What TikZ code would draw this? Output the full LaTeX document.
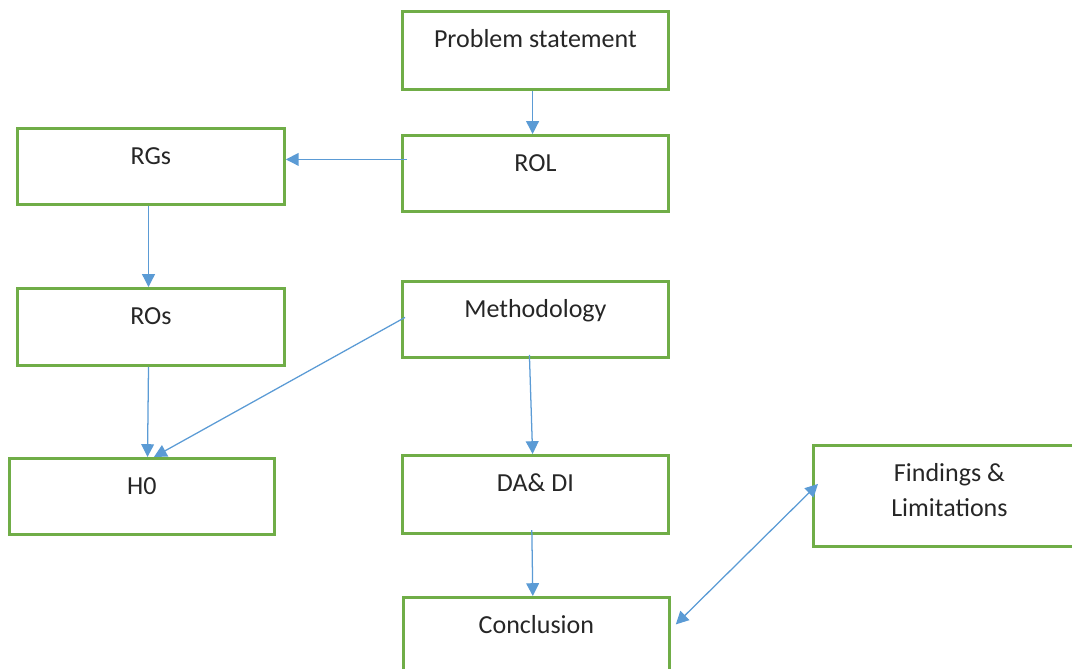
\documentclass[tikz,border=0pt]{standalone}
\usepackage{fontspec}
\setmainfont{Carlito}
\usetikzlibrary{arrows.meta}

\definecolor{boxgreen}{HTML}{70AD47}
\definecolor{linkblue}{HTML}{5B9BD5}
\definecolor{inkgray}{HTML}{262626}

\begin{document}
\begin{tikzpicture}
    \newcommand{\leftcol}{0.4}   % left column of boxes
    \newcommand{\midcol}{10.025} % middle column of boxes
    \newcommand{\boxwd}{6.65cm}  % width of the boxes

    % set the style of the boxes and the links
    \tikzset{
        stage/.style={
            draw=boxgreen,
            line width=2pt,
            inner sep=0pt,
            anchor=north west,
            align=center,
            text=inkgray,
            minimum width=\boxwd,
            text height=0.9cm,
            text depth=1cm,
            font=\fontsize{18.5}{25}\selectfont
            },
        link/.style={
            draw=linkblue,
            line width=0.9pt,
            -{Triangle[length=0.32cm,width=0.32cm]}
            }
    }

    \clip (0,0) rectangle (26.8,-16.7);

    % boxes of the middle column
    \node[stage, text depth=1.05cm] (prob) at (\midcol,-0.25) {Problem statement};
    \node[stage] (rol) at (\midcol,-3.35) {ROL};
    \node[stage] (meth) at (\midcol,-7.0) {Methodology};
    \node[stage, text depth=1.05cm] (dadi) at (\midcol,-11.35) {DA\& DI};
    \node[stage] (concl) at (\midcol+0.025,-14.9) {Conclusion};

    % boxes of the left column
    \node[stage, minimum width=6.675cm] (rgs) at (\leftcol,-3.175) {RGs};
    \node[stage, minimum width=6.675cm, text depth=1.025cm] (ros) at (\leftcol,-7.175) {ROs};
    \node[stage, minimum width=6.625cm] (hzero) at (0.2,-11.425) {H0};

    % box on the right (two lines of text)
    \node[stage, minimum width=6.8cm, text height=1.775cm, text depth=0.75cm] (find) at (20.3,-11.1) {Findings \&\\ Limitations};

    % links
    \draw[link] ([xshift=-0.07cm]prob.south) -- ([xshift=-0.07cm]rol.north);
    \draw[link] ([xshift=0.15cm,yshift=0.35cm]rol.west) -- ([yshift=0.175cm]rgs.east);
    \draw[link] ([xshift=-0.06cm]rgs.south) -- ([xshift=-0.06cm]ros.north);
    \draw[link] ([xshift=-0.06cm]ros.south) -- ([xshift=0.14cm]hzero.north);
    \draw[link] ([xshift=0.1cm,yshift=0.05cm]meth.west) -- ([xshift=0.3cm]hzero.north);
    \draw[link] ([xshift=-0.15cm,yshift=0.1cm]meth.south) -- ([xshift=-0.07cm]dadi.north);
    \draw[link] ([xshift=-0.09cm,yshift=0.12cm]dadi.south) -- ([xshift=-0.09cm]concl.north);
    \draw[link, {Triangle[length=0.32cm,width=0.32cm]}-{Triangle[length=0.32cm,width=0.32cm]}]
        ([xshift=0.125cm,yshift=0.275cm]concl.east) -- ([xshift=0.15cm,yshift=0.3cm]find.west);

\end{tikzpicture}
\end{document}
